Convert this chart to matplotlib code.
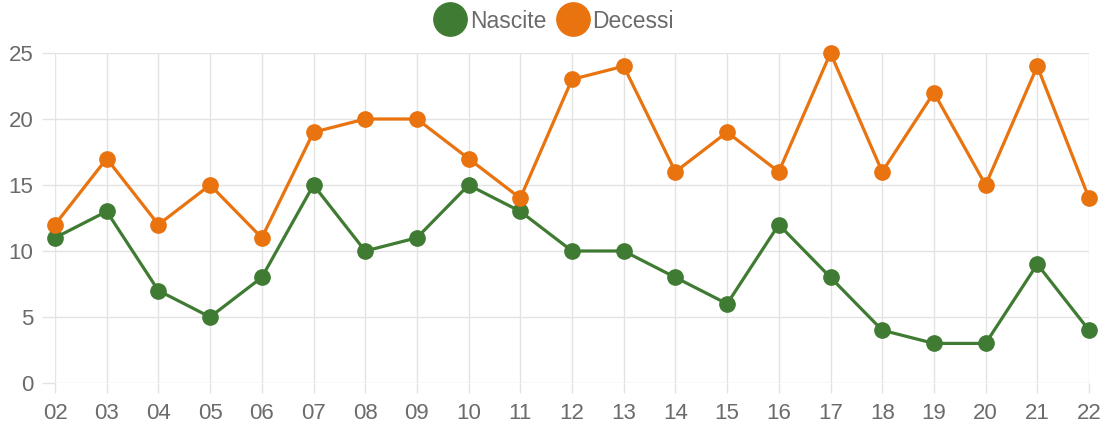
import matplotlib.pyplot as plt
from matplotlib.lines import Line2D

plt.rcParams['font.family'] = ['Liberation Sans', 'DejaVu Sans']

anni = ["02", "03", "04", "05", "06", "07", "08", "09", "10", "11", "12",
        "13", "14", "15", "16", "17", "18", "19", "20", "21", "22"]
nascite = [11, 13, 7, 5, 8, 15, 10, 11, 15, 13, 10, 10, 8, 6, 12, 8, 4, 3, 3, 9, 4]
decessi = [12, 17, 12, 15, 11, 19, 20, 20, 17, 14, 23, 24, 16, 19, 16, 25, 16, 22, 15, 24, 14]
yticks = [0, 5, 10, 15, 20, 25]

verde = "#3f7b32"
arancio = "#e8730f"
griglia = "#e3e3e3"
testo = "#6b6b6b"

W, H = 1110, 432
fig = plt.figure(figsize=(W / 100, H / 100), dpi=100)
ax = fig.add_axes([55 / W, (H - 383) / H, (1089 - 55) / W, (383 - 53) / H])

x = list(range(len(anni)))
ax.plot(x, nascite, color=verde, lw=2.3, marker="o", ms=11, zorder=3, clip_on=False)
ax.plot(x, decessi, color=arancio, lw=2.3, marker="o", ms=11, zorder=3, clip_on=False)

ax.set_xlim(0, len(anni) - 1)
ax.set_ylim(0, 25)
ax.set_xticks(x)
ax.set_xticklabels(anni)
ax.set_yticks(yticks)
ax.grid(True, color=griglia, lw=1)
ax.set_axisbelow(True)
for s in ax.spines.values():
    s.set_visible(False)
ax.tick_params(axis="both", colors=griglia, labelcolor=testo, labelsize=16, width=1)
ax.tick_params(axis="y", length=9.5, pad=6)
ax.tick_params(axis="x", length=7.5, pad=7)

# legenda in alto con cerchi grandi
handles = [Line2D([], [], color=verde, marker="o", ls="", ms=24),
           Line2D([], [], color=arancio, marker="o", ls="", ms=24)]
fig.legend(handles, ["Nascite", "Decessi"], loc="center", bbox_to_anchor=(554 / W, 1 - 21 / H),
           ncol=2, frameon=False, fontsize=16.5, labelcolor=testo, handletextpad=0.15,
           columnspacing=0.45, handlelength=1.4)

fig.savefig("out.png", dpi=100)
